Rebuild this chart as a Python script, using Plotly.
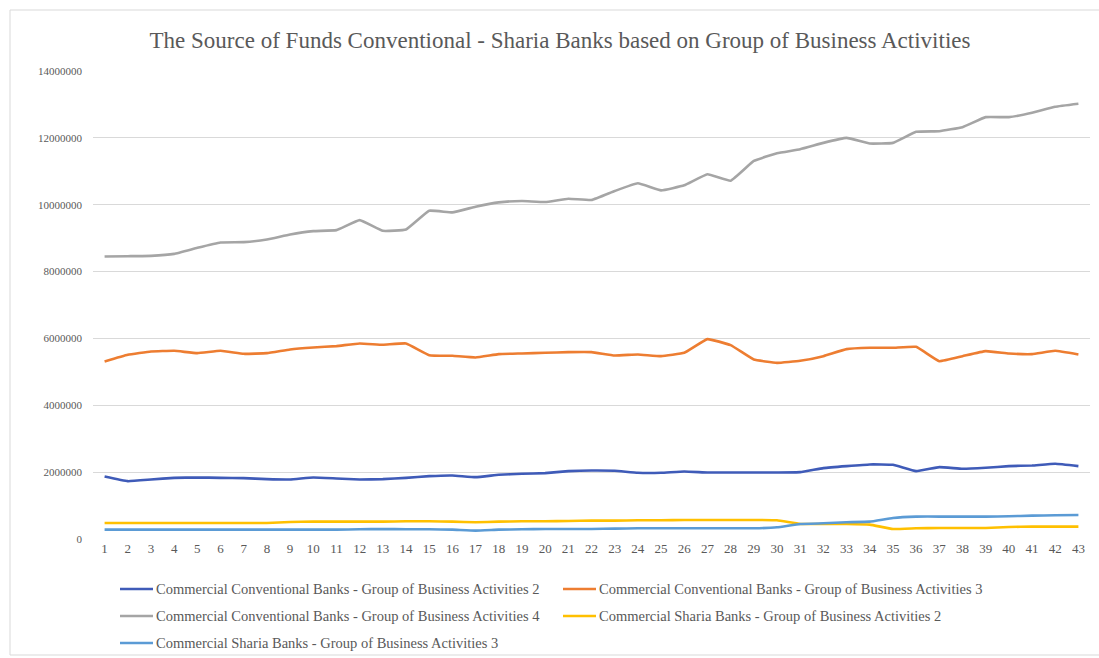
import plotly.graph_objects as go

# Period index on the x axis
periods = list(range(1, 44))

# Source of funds by bank type and business-activity group
conv_bag2 = [1870000, 1730000, 1780000, 1830000, 1840000, 1830000, 1820000, 1790000, 1780000, 1840000,
             1810000, 1780000, 1790000, 1830000, 1880000, 1900000, 1850000, 1920000, 1950000, 1970000,
             2030000, 2050000, 2040000, 1980000, 1980000, 2020000, 1990000, 1990000, 1990000, 1990000,
             2000000, 2120000, 2180000, 2230000, 2220000, 2030000, 2150000, 2100000, 2130000, 2180000,
             2200000, 2250000, 2180000]
conv_bag3 = [5310000, 5510000, 5610000, 5630000, 5560000, 5630000, 5540000, 5560000, 5670000, 5730000,
             5770000, 5850000, 5810000, 5850000, 5500000, 5480000, 5430000, 5530000, 5550000, 5570000,
             5590000, 5590000, 5490000, 5520000, 5470000, 5570000, 5980000, 5800000, 5370000, 5270000,
             5330000, 5470000, 5680000, 5720000, 5720000, 5750000, 5320000, 5470000, 5620000, 5550000,
             5530000, 5630000, 5520000]
conv_bag4 = [8450000, 8460000, 8470000, 8530000, 8710000, 8870000, 8880000, 8960000, 9110000, 9210000,
             9240000, 9540000, 9220000, 9260000, 9820000, 9770000, 9940000, 10070000, 10110000, 10080000,
             10180000, 10140000, 10410000, 10640000, 10430000, 10580000, 10910000, 10720000, 11310000, 11540000,
             11660000, 11850000, 12000000, 11830000, 11850000, 12180000, 12200000, 12320000, 12620000, 12620000,
             12750000, 12930000, 13020000]
sharia_bag2 = [480000, 480000, 480000, 480000, 480000, 480000, 480000, 480000, 510000, 520000,
               520000, 520000, 520000, 530000, 530000, 520000, 500000, 520000, 530000, 530000,
               540000, 550000, 550000, 560000, 560000, 570000, 570000, 570000, 570000, 560000,
               450000, 450000, 450000, 430000, 300000, 320000, 330000, 330000, 330000, 360000,
               370000, 370000, 370000]
sharia_bag3 = [280000, 280000, 280000, 280000, 280000, 280000, 280000, 280000, 280000, 280000,
               280000, 290000, 300000, 290000, 290000, 280000, 250000, 280000, 290000, 300000,
               300000, 300000, 310000, 320000, 320000, 320000, 320000, 320000, 320000, 350000,
               450000, 470000, 500000, 520000, 630000, 670000, 670000, 670000, 670000, 680000,
               700000, 710000, 720000]

series_names = [
    "Commercial Conventional Banks - Group of Business Activities 2",
    "Commercial Conventional Banks - Group of Business Activities 3",
    "Commercial Conventional Banks - Group of Business Activities 4",
    "Commercial Sharia Banks - Group of Business Activities 2",
    "Commercial Sharia Banks - Group of Business Activities 3",
]
series_values = [conv_bag2, conv_bag3, conv_bag4, sharia_bag2, sharia_bag3]
series_colors = ["#3F5BB8", "#ED7D31", "#A5A5A5", "#FFC000", "#5B9BD5"]

y_ticks = list(range(0, 14000001, 2000000))

serif = "Liberation Serif"
text_grey = "#595959"

# Plot-area geometry in pixels (used to place the legend block below the axis)
W, H = 1099, 658
ML, MR, MT, MB = 93, 9, 71, 119
PW, PH = W - ML - MR, H - MT - MB


def px_x(x):
    return (x - ML) / PW


def px_y(y):
    return (H - MB - y) / PH


fig = go.Figure()
for name, vals, col in zip(series_names, series_values, series_colors):
    fig.add_trace(go.Scatter(
        x=periods, y=vals, mode="lines", name=name, showlegend=False,
        line=dict(color=col, width=2.6, shape="spline", smoothing=0.3),
    ))

# Two-column legend, filled row by row
legend_cols = [120, 563]
legend_rows = [589, 616, 643]
for i, (name, col) in enumerate(zip(series_names, series_colors)):
    lx = legend_cols[i % 2]
    ly = legend_rows[i // 2]
    fig.add_shape(type="line", xref="paper", yref="paper",
                  x0=px_x(lx), x1=px_x(lx + 33), y0=px_y(ly), y1=px_y(ly),
                  line=dict(color=col, width=2.6))
    fig.add_annotation(text=name, xref="paper", yref="paper",
                       x=px_x(lx + 34), y=px_y(ly), xanchor="left", yanchor="middle",
                       showarrow=False, font=dict(family=serif, size=14.5, color=text_grey))

fig.update_layout(
    width=W, height=H,
    margin=dict(l=ML, r=MR, t=MT, b=MB, autoexpand=False),
    paper_bgcolor="white", plot_bgcolor="white",
    font=dict(family=serif, color=text_grey, size=11),
    title=dict(
        text="The Source of Funds Conventional - Sharia Banks based on Group of Business Activities",
        x=560 / W, xanchor="center", y=1 - 40 / H, yanchor="middle",
        font=dict(family=serif, size=23, color=text_grey),
    ),
    xaxis=dict(
        range=[0.5, 43.5], tickmode="array", tickvals=periods,
        ticktext=[str(p) for p in periods],
        showgrid=False, showline=False, zeroline=False, ticks="",
        tickfont=dict(family=serif, size=13, color=text_grey),
    ),
    yaxis=dict(
        range=[0, 14000000], tickmode="array", tickvals=y_ticks,
        tickformat="d", showgrid=True, gridcolor="#D9D9D9", gridwidth=1,
        zeroline=False, showline=False, ticks="", ticklabelstandoff=10,
        tickfont=dict(family=serif, size=11, color=text_grey),
    ),
    showlegend=False,
)

# Thin chart-area frame
fig.add_shape(type="rect", xref="paper", yref="paper",
              x0=px_x(10), x1=px_x(1104), y0=px_y(655), y1=px_y(10),
              line=dict(color="#D9D9D9", width=1), layer="below")

fig.write_html("out.html")
